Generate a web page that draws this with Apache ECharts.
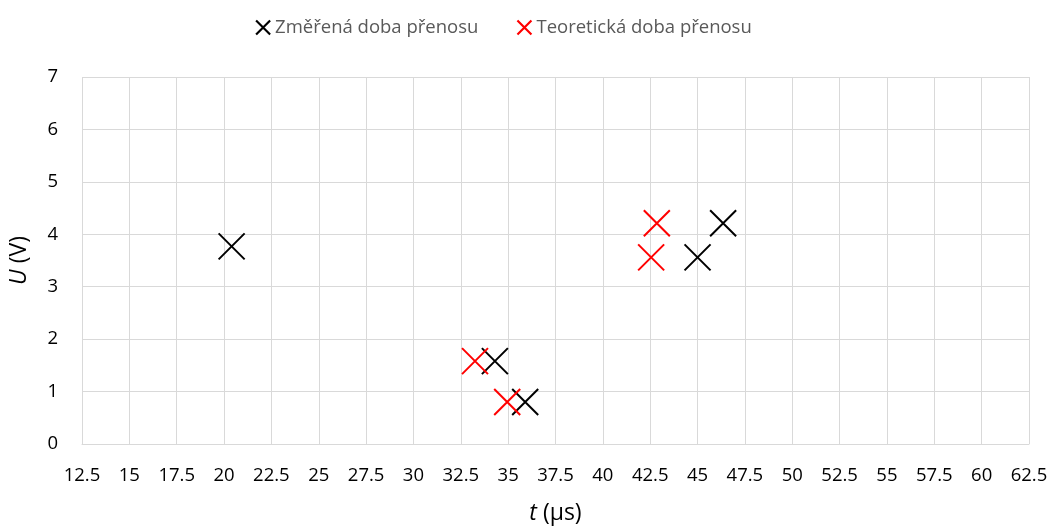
<!DOCTYPE html>
<html>
<head>
<meta charset="utf-8">
<script src="https://cdn.jsdelivr.net/npm/echarts@6/dist/echarts.min.js"></script>
<style>html,body{margin:0;padding:0;background:#fff}#c{width:1055px;height:532px}</style>
</head>
<body>
<div id="c"></div>
<script>
const seriesNames = ['Změřená doba přenosu', 'Teoretická doba přenosu'];
const measured = [[20.4, 3.77], [34.3, 1.58], [35.9, 0.80], [45.0, 3.56], [46.35, 4.21]];
const theoretical = [[33.25, 1.58], [34.95, 0.80], [42.55, 3.56], [42.85, 4.21]];
const xTicks = {min: 12.5, max: 62.5, interval: 2.5};
const yTicks = {min: 0, max: 7, interval: 1};

const FONT = 'Open Sans';
const cross = 'path://M0,0L10,10M10,0L0,10';
const chart = echarts.init(document.getElementById('c'), null, {renderer: 'canvas'});
chart.setOption({
  animation: false,
  textStyle: {fontFamily: FONT},
  legend: {
    top: 13, left: 250, itemGap: 38, itemWidth: 14, itemHeight: 14,
    textStyle: {fontSize: 18.5, color: '#595959', fontFamily: FONT},
    data: [
      {name: seriesNames[0], icon: cross, itemStyle: {color: 'transparent', borderColor: '#000', borderWidth: 2.2, opacity: 1}},
      {name: seriesNames[1], icon: cross, itemStyle: {color: 'transparent', borderColor: '#ff0000', borderWidth: 2.2, opacity: 1}}
    ]
  },
  grid: {left: 81, right: 26, top: 77, bottom: 88, containLabel: false},
  xAxis: {
    type: 'value', min: xTicks.min, max: xTicks.max, interval: xTicks.interval,
    name: '{i|t} (μs)', nameLocation: 'middle', nameGap: 58,
    nameTextStyle: {fontSize: 23, color: '#000', fontFamily: FONT, rich: {i: {fontStyle: 'italic', fontSize: 23, fontFamily: FONT}}},
    axisLine: {show: true, lineStyle: {color: '#d9d9d9', width: 1}},
    axisTick: {show: false},
    axisLabel: {fontSize: 18.5, color: '#000', margin: 22, fontFamily: FONT},
    splitLine: {show: true, lineStyle: {color: '#d9d9d9', width: 1}}
  },
  yAxis: {
    type: 'value', min: yTicks.min, max: yTicks.max, interval: yTicks.interval,
    name: '{i|U} (V)', nameLocation: 'middle', nameGap: 51,
    nameTextStyle: {fontSize: 23, color: '#000', fontFamily: FONT, rich: {i: {fontStyle: 'italic', fontSize: 23, fontFamily: FONT}}},
    axisLine: {show: false},
    axisTick: {show: false},
    axisLabel: {fontSize: 18.5, color: '#000', margin: 24, fontFamily: FONT},
    splitLine: {show: true, lineStyle: {color: '#d9d9d9', width: 1}}
  },
  series: [
    {name: seriesNames[0], type: 'scatter', data: measured, symbol: cross, symbolSize: 26,
     itemStyle: {color: 'transparent', borderColor: '#000', borderWidth: 2, opacity: 1}},
    {name: seriesNames[1], type: 'scatter', data: theoretical, symbol: cross, symbolSize: 26,
     itemStyle: {color: 'transparent', borderColor: '#ff0000', borderWidth: 2, opacity: 1}}
  ]
});
</script>
</body>
</html>
